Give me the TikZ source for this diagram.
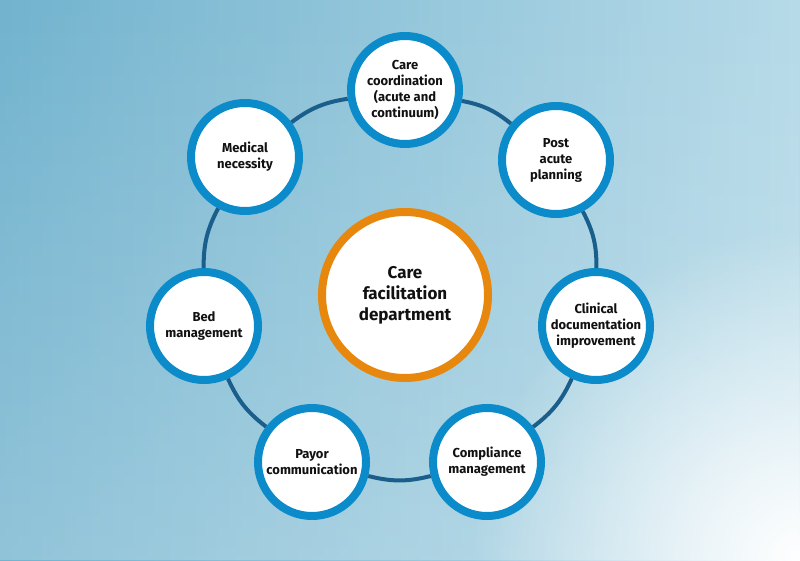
\documentclass[tikz,border=0pt]{standalone}
\usepackage{fontspec}
\setmainfont{Fira Sans}
\usetikzlibrary{fadings}
\definecolor{bgA}{HTML}{72B3CE}
\definecolor{bgB}{HTML}{B6DAE8}
\definecolor{ringblue}{HTML}{1A5E8C}
\definecolor{satblue}{HTML}{0B8BC9}
\definecolor{hubor}{HTML}{E8870E}
\definecolor{txt}{HTML}{111111}
\tikzfading[name=glowfade, inner color=transparent!0, outer color=transparent!100]
\begin{document}
\begin{tikzpicture}[x=1pt,y=1pt,
  sat/.style={circle, draw=satblue, line width=8pt, fill=white, minimum size=108pt,
    inner sep=0pt, align=center, font=\bfseries\fontsize{13}{16}\selectfont, text=txt},
  hub/.style={circle, draw=hubor, line width=8pt, fill=white, minimum size=166pt,
    inner sep=0pt, align=center, font=\fontsize{17}{21}\selectfont\bfseries, text=txt},
  ringline/.style={draw=ringblue, line width=4pt},
  ringbend/.style={bend left=14}]
% background
\useasboundingbox (0,0) rectangle (800,560);
\begin{scope}
\clip (0,0) rectangle (800,560);
\shade[left color=bgA, right color=bgB] (0,0) rectangle (800,560);
\fill[white, opacity=0.22, path fading=north] (0,0) rectangle (800,560);
\fill[white, path fading=glowfade] (800,0) circle (330);
\end{scope}
% nodes
\node[hub] (hub) at (405,265) {Care\\facilitation\\department};
\node[sat] (care) at (405,470) {Care\\coordination\\(acute and\\continuum)};
\node[sat] (post) at (556,400) {Post\\acute\\planning};
\node[sat] (clin) at (596,234) {Clinical\\documentation\\improvement};
\node[sat] (comp) at (487,98) {Compliance\\management};
\node[sat] (payor) at (312,98) {Payor\\communication};
\node[sat] (bed) at (204,234) {Bed\\management};
\node[sat] (med) at (245,403) {Medical\\necessity};
% ring connectors
\draw[ringline] (care) to[ringbend] (post);
\draw[ringline] (post) to[ringbend] (clin);
\draw[ringline] (clin) to[ringbend] (comp);
\draw[ringline] (comp) to[ringbend] (payor);
\draw[ringline] (payor) to[ringbend] (bed);
\draw[ringline] (bed) to[ringbend] (med);
\draw[ringline] (med) to[ringbend] (care);
\end{tikzpicture}
\end{document}
